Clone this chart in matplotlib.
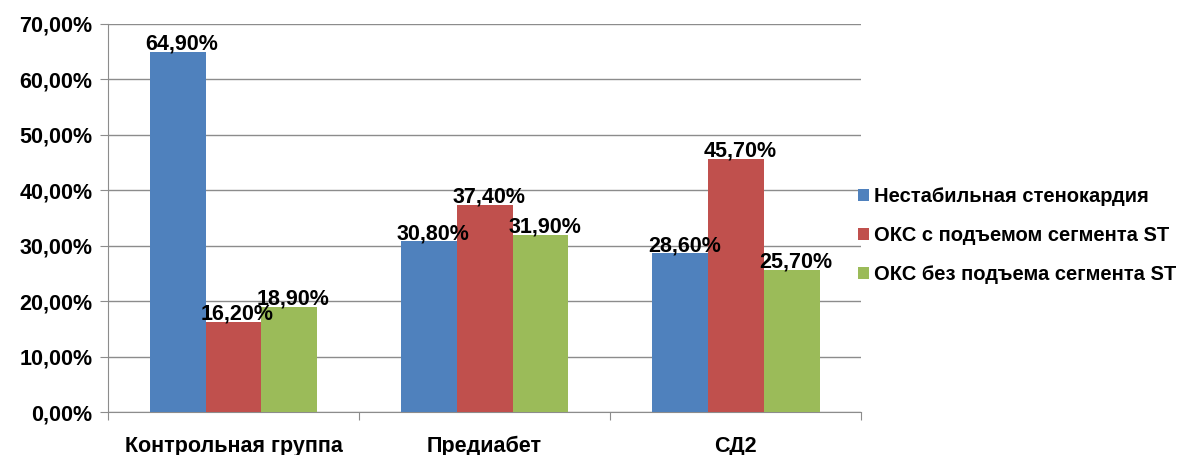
import numpy as np
import matplotlib.pyplot as plt
from matplotlib.ticker import FuncFormatter

categories = ['Контрольная группа', 'Предиабет', 'СД2']
series_names = ['Нестабильная стенокардия', 'ОКС с подъемом сегмента ST', 'ОКС без подъема сегмента ST']
unstable = [64.9, 30.8, 28.6]
stemi = [16.2, 37.4, 45.7]
nstemi = [18.9, 31.9, 25.7]
colors = ['#4F81BD', '#C0504D', '#9BBB59']

plt.rcParams['font.family'] = ['Liberation Sans', 'DejaVu Sans']
plt.rcParams['font.weight'] = 'bold'

fig = plt.figure(figsize=(11.85, 4.55), dpi=100)
ax = fig.add_axes([0.091, 0.0945, 0.636, 0.853])

x = np.arange(len(categories))
w = 0.222
for i, (vals, name) in enumerate(zip([unstable, stemi, nstemi], series_names)):
    pos = x + (i - 1) * w
    ax.bar(pos, vals, w, color=colors[i], label=name, zorder=3)
    for px, v in zip(pos, vals):
        ax.annotate(('%.2f%%' % v).replace('.', ','), (px, v), xytext=(3, -2),
                    textcoords='offset points', ha='center', va='bottom',
                    fontsize=15.5, fontweight='bold', zorder=4)

ax.set_xlim(-0.5, 2.5)
ax.set_ylim(0, 70)
ax.set_yticks(np.arange(0, 71, 10))
ax.yaxis.set_major_formatter(FuncFormatter(lambda v, p: ('%.2f%%' % v).replace('.', ',')))
ax.grid(axis='y', color='#8c8c8c', linewidth=1, zorder=0)

ax.set_xticks([-0.5, 0.5, 1.5, 2.5])
ax.set_xticklabels([])
ax.set_xticks(x, minor=True)
ax.set_xticklabels(categories, minor=True, fontsize=15.5, fontweight='bold')
ax.tick_params(axis='x', which='minor', length=0, pad=17)
ax.tick_params(axis='x', which='major', length=6, color='#8c8c8c')
ax.tick_params(axis='y', length=6, color='#8c8c8c', labelsize=15.5, pad=5)

for s in ['top', 'right']:
    ax.spines[s].set_visible(False)
for s in ['left', 'bottom']:
    ax.spines[s].set_color('#8c8c8c')

ax.legend(loc='center left', bbox_to_anchor=(0.985, 0.455), frameon=False,
          fontsize=14.5, handlelength=0.55, handleheight=0.55, handletextpad=0.25,
          labelspacing=1.0, borderaxespad=0)

fig.savefig('out.png', dpi=100)
